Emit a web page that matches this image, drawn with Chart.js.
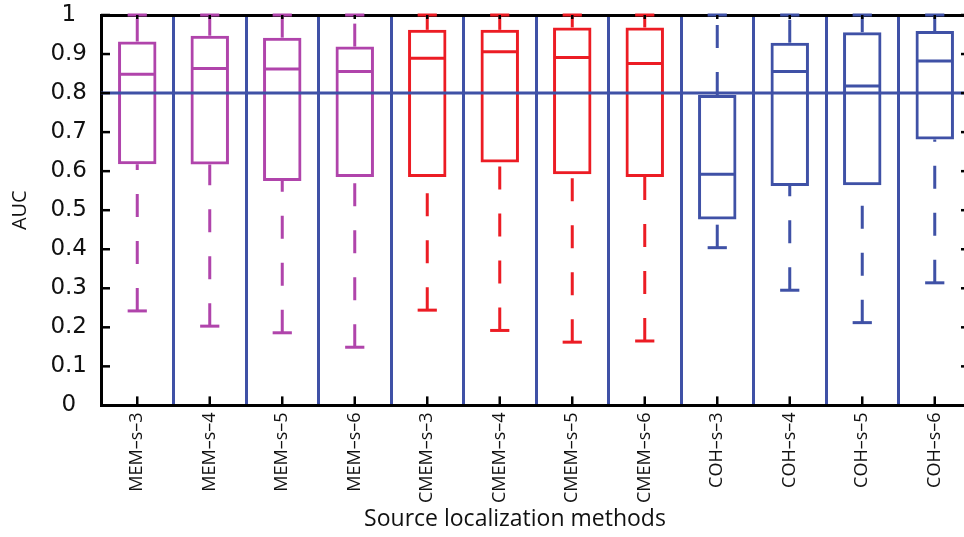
<!DOCTYPE html>
<html lang="en">
<head>
    <meta charset="UTF-8">
    <title>AUC by source localization method</title>
    <script src="https://cdn.jsdelivr.net/npm/chart.js"></script>
    <style>
        html, body {
            margin: 0;
            padding: 0;
            background-color: white;
            overflow: hidden;
        }
        #wrap {
            width: 1030px;
            height: 537px;
        }
    </style>
</head>
<body>
    <div id="wrap">
        <canvas id="aucChart" width="1030" height="537"></canvas>
    </div>

    <script>
        // Data
        const methods = ['MEM\u2013s\u20133', 'MEM\u2013s\u20134', 'MEM\u2013s\u20135', 'MEM\u2013s\u20136',
                         'CMEM\u2013s\u20133', 'CMEM\u2013s\u20134', 'CMEM\u2013s\u20135', 'CMEM\u2013s\u20136',
                         'COH\u2013s\u20133', 'COH\u2013s\u20134', 'COH\u2013s\u20135', 'COH\u2013s\u20136'];
        const methodGroup  = ['MEM', 'MEM', 'MEM', 'MEM', 'CMEM', 'CMEM', 'CMEM', 'CMEM', 'COH', 'COH', 'COH', 'COH'];
        const lowerWhisker = [0.242, 0.203, 0.186, 0.149, 0.244, 0.192, 0.162, 0.165, 0.404, 0.295, 0.212, 0.314];
        const q1           = [0.618, 0.617, 0.575, 0.585, 0.585, 0.622, 0.592, 0.585, 0.476, 0.562, 0.564, 0.681];
        const median       = [0.848, 0.863, 0.862, 0.855, 0.889, 0.906, 0.891, 0.876, 0.592, 0.855, 0.818, 0.882];
        const q3           = [0.932, 0.947, 0.942, 0.919, 0.962, 0.962, 0.968, 0.968, 0.795, 0.929, 0.956, 0.959];
        const upperWhisker = [1, 1, 1, 1, 1, 1, 1, 1, 1, 1, 1, 1];
        const threshold = 0.8;

        const groupColors = { MEM: '#b044ab', CMEM: '#ec1c24', COH: '#3f51a6' };
        const lineBlue = '#3f51a6';
        const boxColors = methodGroup.map(g => groupColors[g]);

        // whiskers, caps, medians, threshold line and inward tick marks
        const boxPlot = {
            id: 'boxPlot',
            afterDatasetsDraw(chart) {
                const { ctx, chartArea: a, scales: { x, y } } = chart;
                const bar = chart.getDatasetMeta(0).data[0];
                const half = bar.width / 2;
                const seg = (x1, y1, x2, y2) => {
                    ctx.beginPath();
                    ctx.moveTo(x1, y1);
                    ctx.lineTo(x2, y2);
                    ctx.stroke();
                };
                ctx.save();
                ctx.lineWidth = 3;

                // threshold sits on top of the boxes
                ctx.strokeStyle = lineBlue;
                seg(a.left, y.getPixelForValue(threshold), a.right, y.getPixelForValue(threshold));

                methods.forEach((m, i) => {
                    const cx = x.getPixelForValue(i);
                    ctx.strokeStyle = boxColors[i];
                    // dashed whiskers, drawn from low value to high value
                    ctx.setLineDash([23, 24]);
                    seg(cx, y.getPixelForValue(lowerWhisker[i]), cx, y.getPixelForValue(q1[i]));
                    seg(cx, y.getPixelForValue(q3[i]), cx, y.getPixelForValue(upperWhisker[i]));
                    ctx.setLineDash([]);
                    // caps
                    seg(cx - half / 2, y.getPixelForValue(lowerWhisker[i]), cx + half / 2, y.getPixelForValue(lowerWhisker[i]));
                    seg(cx - half / 2, y.getPixelForValue(upperWhisker[i]), cx + half / 2, y.getPixelForValue(upperWhisker[i]));
                    // median
                    seg(cx - half + 1.5, y.getPixelForValue(median[i]), cx + half - 1.5, y.getPixelForValue(median[i]));
                });

                // MATLAB style inward ticks
                ctx.strokeStyle = '#000';
                ctx.lineWidth = 2.5;
                y.ticks.forEach(t => {
                    const py = y.getPixelForValue(t.value);
                    seg(a.left, py, a.left + 9, py);
                    seg(a.right, py, a.right - 10, py);
                });
                methods.forEach((m, i) => {
                    const px = x.getPixelForValue(i);
                    seg(px, a.bottom, px, a.bottom - 9);
                    seg(px, a.top, px, a.top + 4);
                });
                ctx.restore();
            }
        };

        new Chart(document.getElementById('aucChart'), {
            type: 'bar',
            data: {
                labels: methods,
                datasets: [{
                    label: 'Interquartile range',
                    data: methods.map((m, i) => [q1[i], q3[i]]),
                    backgroundColor: 'rgba(0,0,0,0)',
                    borderColor: boxColors,
                    borderWidth: 3,
                    borderSkipped: false,
                    barPercentage: 0.53,
                    categoryPercentage: 1
                }]
            },
            options: {
                responsive: false,
                devicePixelRatio: 1,
                animation: false,
                layout: { padding: 0 },
                plugins: {
                    legend: { display: false },
                    tooltip: { enabled: false },
                    title: {
                        display: true,
                        position: 'bottom',
                        text: 'Source localization methods',
                        color: '#111',
                        font: { family: 'Open Sans', size: 23, weight: 'normal' },
                        padding: { top: 0, bottom: 4 }
                    }
                },
                scales: {
                    x: {
                        position: 'bottom',
                        offset: true,
                        afterFit: s => { s.height = 100; s.paddingLeft = 0; s.paddingRight = 0; },
                        grid: {
                            offset: true,
                            drawTicks: false,
                            lineWidth: 3,
                            color: c => (c.index === 0 ? 'rgba(0,0,0,0)' : lineBlue)
                        },
                        border: { color: '#000', width: 3 },
                        ticks: {
                            autoSkip: false,
                            minRotation: 90,
                            maxRotation: 90,
                            padding: 7,
                            color: '#111',
                            font: { family: 'Open Sans', size: 18 }
                        }
                    },
                    xTop: {
                        position: 'top',
                        type: 'category',
                        labels: methods,
                        afterFit: s => { s.height = 15; },
                        grid: { display: false },
                        border: { color: '#000', width: 3 },
                        ticks: { display: false }
                    },
                    y: {
                        position: 'left',
                        min: 0,
                        max: 1,
                        afterFit: s => { s.width = 101; s.paddingTop = 0; s.paddingBottom = 0; },
                        grid: { display: false, drawTicks: false },
                        border: { color: '#000', width: 3 },
                        ticks: {
                            stepSize: 0.1,
                            crossAlign: 'center',
                            padding: 14,
                            color: '#111',
                            font: { family: 'DejaVu Sans', size: 23 },
                            callback: v => (v === 0 || v === 1 ? String(v) : v.toFixed(1))
                        },
                        title: {
                            display: true,
                            text: 'AUC',
                            color: '#111',
                            font: { family: 'Open Sans', size: 20 },
                            padding: { top: 8, bottom: 0 }
                        }
                    },
                    yRight: {
                        position: 'right',
                        min: 0,
                        max: 1,
                        afterFit: s => { s.width = 59; s.paddingTop = 0; s.paddingBottom = 0; },
                        grid: { display: false },
                        border: { color: '#000', width: 3 },
                        ticks: { display: false }
                    }
                }
            },
            plugins: [boxPlot]
        });
    </script>
</body>
</html>
